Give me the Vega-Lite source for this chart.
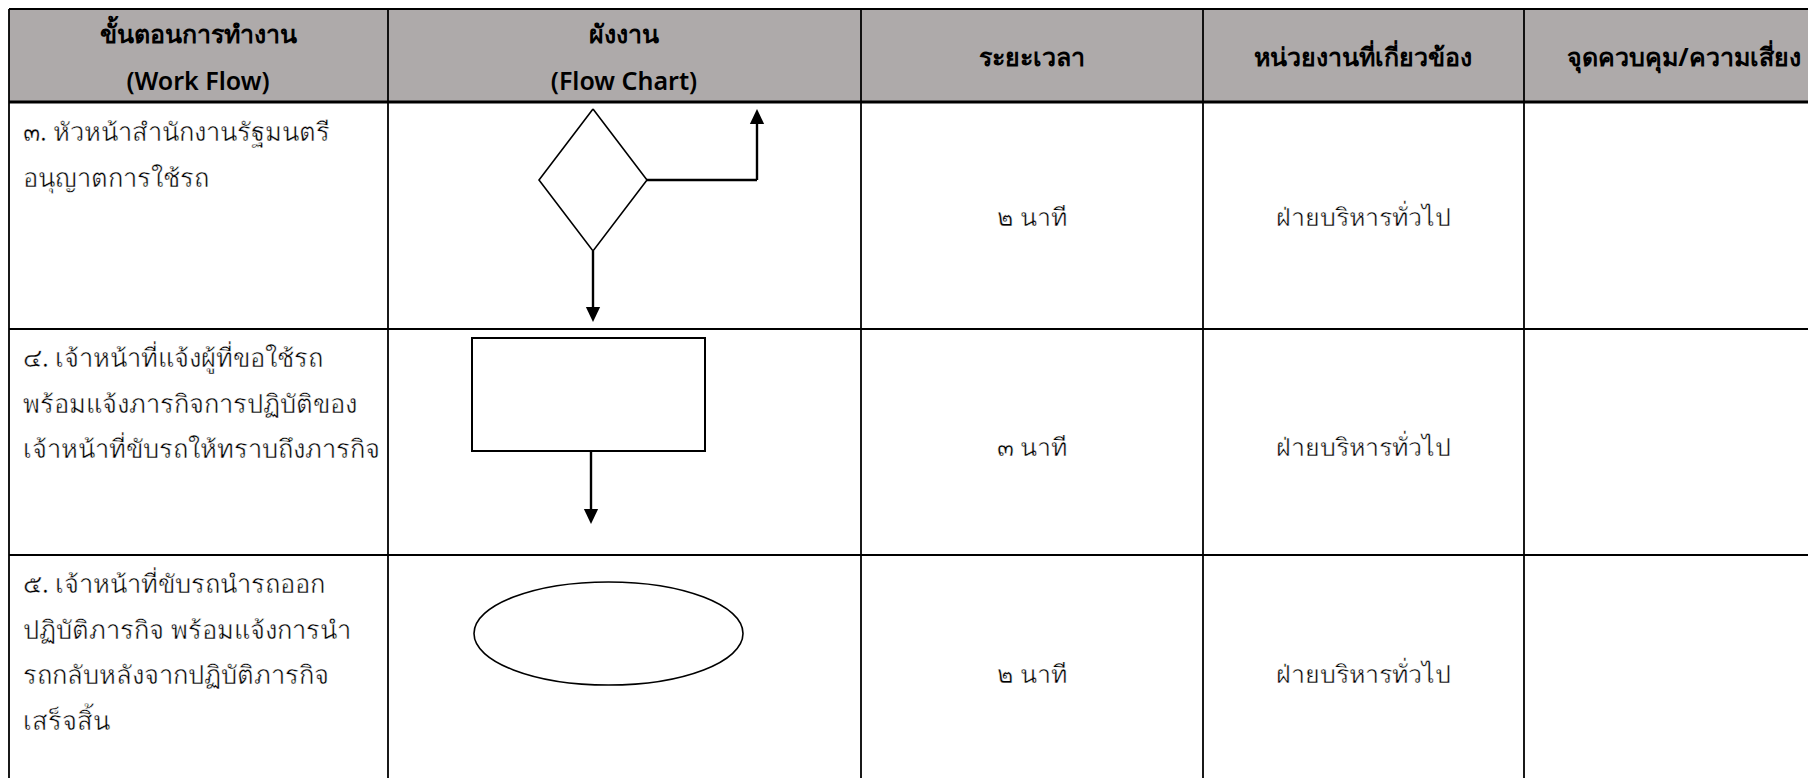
{
  "$schema": "https://vega.github.io/schema/vega-lite/v6.json",
  "width": 1808,
  "height": 778,
  "autosize": "none",
  "padding": 0,
  "background": "white",
  "config": {"view": {"stroke": null}},
  "datasets": {
    "headerBand": [{"x0": 9, "x1": 1808, "y0": 9, "y1": 102}],
    "gridLines": [
      {"x0": 9, "x1": 1808, "y0": 9, "y1": 9},
      {"x0": 9, "x1": 1808, "y0": 329, "y1": 329},
      {"x0": 9, "x1": 1808, "y0": 555, "y1": 555},
      {"x0": 9, "x1": 9, "y0": 9, "y1": 778},
      {"x0": 388, "x1": 388, "y0": 9, "y1": 778},
      {"x0": 861, "x1": 861, "y0": 9, "y1": 778},
      {"x0": 1203, "x1": 1203, "y0": 9, "y1": 778},
      {"x0": 1524, "x1": 1524, "y0": 9, "y1": 778}
    ],
    "headerRule": [{"x0": 9, "x1": 1808, "y0": 102, "y1": 102}],
    "headersThai": [
      {"label": "ขั้นตอนการทำงาน", "cx": 198, "cy": 35},
      {"label": "ผังงาน", "cx": 624, "cy": 35},
      {"label": "ระยะเวลา", "cx": 1032, "cy": 58},
      {"label": "หน่วยงานที่เกี่ยวข้อง", "cx": 1363, "cy": 58},
      {"label": "จุดควบคุม/ความเสี่ยง", "cx": 1684, "cy": 58}
    ],
    "headersLatin": [
      {"label": "(Work Flow)", "cx": 198, "cy": 82},
      {"label": "(Flow Chart)", "cx": 624, "cy": 82}
    ],
    "steps": [
      {"step": "๓. หัวหน้าสำนักงานรัฐมนตรี\nอนุญาตการใช้รถ", "x": 23, "top": 103},
      {"step": "๔. เจ้าหน้าที่แจ้งผู้ที่ขอใช้รถ\nพร้อมแจ้งภารกิจการปฏิบัติของ\nเจ้าหน้าที่ขับรถให้ทราบถึงภารกิจ", "x": 23, "top": 329},
      {"step": "๕. เจ้าหน้าที่ขับรถนำรถออก\nปฏิบัติภารกิจ พร้อมแจ้งการนำ\nรถกลับหลังจากปฏิบัติภารกิจ\nเสร็จสิ้น", "x": 23, "top": 555}
    ],
    "cells": [
      {"text": "๒ นาที", "cx": 1032, "cy": 218},
      {"text": "ฝ่ายบริหารทั่วไป", "cx": 1363, "cy": 218},
      {"text": "๓ นาที", "cx": 1032, "cy": 448},
      {"text": "ฝ่ายบริหารทั่วไป", "cx": 1363, "cy": 448},
      {"text": "๒ นาที", "cx": 1032, "cy": 675},
      {"text": "ฝ่ายบริหารทั่วไป", "cx": 1363, "cy": 675}
    ],
    "diamond": [
      {"i": 0, "x": 593, "y": 109},
      {"i": 1, "x": 647, "y": 180},
      {"i": 2, "x": 593, "y": 251},
      {"i": 3, "x": 539, "y": 180},
      {"i": 4, "x": 593, "y": 109}
    ],
    "process": [{"x0": 472, "x1": 705, "y0": 338, "y1": 451}],
    "terminal": [{"x": 608.5, "y": 633.5}],
    "connectors": [
      {"x0": 593, "x1": 593, "y0": 251, "y1": 309},
      {"x0": 647, "x1": 757, "y0": 180, "y1": 180},
      {"x0": 757, "x1": 757, "y0": 180, "y1": 122},
      {"x0": 591, "x1": 591, "y0": 451, "y1": 511}
    ],
    "heads": [
      {"x": 593, "y": 314.5, "dir": "down"},
      {"x": 757, "y": 116.5, "dir": "up"},
      {"x": 591, "y": 516.5, "dir": "down"}
    ]
  },
  "layer": [
    {
      "data": {"name": "headerBand"},
      "mark": {"type": "rect", "fill": "#AEAAAA"},
      "encoding": {
        "x": {"field": "x0", "type": "quantitative", "scale": {"domain": [0, 1808], "nice": false, "zero": false}, "axis": null},
        "x2": {"field": "x1"},
        "y": {"field": "y0", "type": "quantitative", "scale": {"domain": [0, 778], "nice": false, "zero": false, "reverse": true}, "axis": null},
        "y2": {"field": "y1"}
      }
    },
    {
      "data": {"name": "gridLines"},
      "mark": {"type": "rule", "color": "black", "strokeWidth": 1.8},
      "encoding": {
        "x": {"field": "x0", "type": "quantitative", "scale": {"domain": [0, 1808], "nice": false, "zero": false}, "axis": null},
        "x2": {"field": "x1"},
        "y": {"field": "y0", "type": "quantitative", "scale": {"domain": [0, 778], "nice": false, "zero": false, "reverse": true}, "axis": null},
        "y2": {"field": "y1"}
      }
    },
    {
      "data": {"name": "headerRule"},
      "mark": {"type": "rule", "color": "black", "strokeWidth": 3},
      "encoding": {
        "x": {"field": "x0", "type": "quantitative", "scale": {"domain": [0, 1808], "nice": false, "zero": false}, "axis": null},
        "x2": {"field": "x1"},
        "y": {"field": "y0", "type": "quantitative", "scale": {"domain": [0, 778], "nice": false, "zero": false, "reverse": true}, "axis": null},
        "y2": {"field": "y1"}
      }
    },
    {
      "data": {"name": "headersThai"},
      "mark": {"type": "text", "align": "center", "baseline": "middle", "font": "Noto Sans", "fontSize": 25, "fontWeight": "bold", "color": "black"},
      "encoding": {
        "x": {"field": "cx", "type": "quantitative", "scale": {"domain": [0, 1808], "nice": false, "zero": false}, "axis": null},
        "y": {"field": "cy", "type": "quantitative", "scale": {"domain": [0, 778], "nice": false, "zero": false, "reverse": true}, "axis": null},
        "text": {"field": "label"}
      }
    },
    {
      "data": {"name": "headersLatin"},
      "mark": {"type": "text", "align": "center", "baseline": "middle", "font": "Noto Sans", "fontSize": 25, "fontWeight": 600, "color": "black"},
      "encoding": {
        "x": {"field": "cx", "type": "quantitative", "scale": {"domain": [0, 1808], "nice": false, "zero": false}, "axis": null},
        "y": {"field": "cy", "type": "quantitative", "scale": {"domain": [0, 778], "nice": false, "zero": false, "reverse": true}, "axis": null},
        "text": {"field": "label"}
      }
    },
    {
      "data": {"name": "steps"},
      "mark": {"type": "text", "align": "left", "baseline": "top", "dy": 18, "lineBreak": "\n", "lineHeight": 45.5, "font": "Noto Sans", "fontSize": 25.5, "fontWeight": "normal", "color": "black", "stroke": "white", "strokeWidth": 0.45},
      "encoding": {
        "x": {"field": "x", "type": "quantitative", "scale": {"domain": [0, 1808], "nice": false, "zero": false}, "axis": null},
        "y": {"field": "top", "type": "quantitative", "scale": {"domain": [0, 778], "nice": false, "zero": false, "reverse": true}, "axis": null},
        "text": {"field": "step"}
      }
    },
    {
      "data": {"name": "cells"},
      "mark": {"type": "text", "align": "center", "baseline": "middle", "font": "Noto Sans", "fontSize": 25, "fontWeight": "normal", "color": "black", "stroke": "white", "strokeWidth": 0.45},
      "encoding": {
        "x": {"field": "cx", "type": "quantitative", "scale": {"domain": [0, 1808], "nice": false, "zero": false}, "axis": null},
        "y": {"field": "cy", "type": "quantitative", "scale": {"domain": [0, 778], "nice": false, "zero": false, "reverse": true}, "axis": null},
        "text": {"field": "text"}
      }
    },
    {
      "data": {"name": "diamond"},
      "mark": {"type": "line", "color": "black", "strokeWidth": 1.6, "strokeJoin": "miter"},
      "encoding": {
        "x": {"field": "x", "type": "quantitative", "scale": {"domain": [0, 1808], "nice": false, "zero": false}, "axis": null},
        "y": {"field": "y", "type": "quantitative", "scale": {"domain": [0, 778], "nice": false, "zero": false, "reverse": true}, "axis": null},
        "order": {"field": "i", "type": "quantitative"}
      }
    },
    {
      "data": {"name": "process"},
      "mark": {"type": "rect", "fill": "white", "stroke": "black", "strokeWidth": 2},
      "encoding": {
        "x": {"field": "x0", "type": "quantitative", "scale": {"domain": [0, 1808], "nice": false, "zero": false}, "axis": null},
        "x2": {"field": "x1"},
        "y": {"field": "y0", "type": "quantitative", "scale": {"domain": [0, 778], "nice": false, "zero": false, "reverse": true}, "axis": null},
        "y2": {"field": "y1"}
      }
    },
    {
      "data": {"name": "terminal"},
      "mark": {"type": "point", "shape": "M-1,0A1,0.383,0,1,1,1,0A1,0.383,0,1,1,-1,0Z", "size": 72361, "filled": false, "stroke": "black", "strokeWidth": 1.6, "opacity": 1},
      "encoding": {
        "x": {"field": "x", "type": "quantitative", "scale": {"domain": [0, 1808], "nice": false, "zero": false}, "axis": null},
        "y": {"field": "y", "type": "quantitative", "scale": {"domain": [0, 778], "nice": false, "zero": false, "reverse": true}, "axis": null}
      }
    },
    {
      "data": {"name": "connectors"},
      "mark": {"type": "rule", "color": "black", "strokeWidth": 2.4},
      "encoding": {
        "x": {"field": "x0", "type": "quantitative", "scale": {"domain": [0, 1808], "nice": false, "zero": false}, "axis": null},
        "x2": {"field": "x1"},
        "y": {"field": "y0", "type": "quantitative", "scale": {"domain": [0, 778], "nice": false, "zero": false, "reverse": true}, "axis": null},
        "y2": {"field": "y1"}
      }
    },
    {
      "data": {"name": "heads"},
      "mark": {"type": "point", "filled": true, "color": "black", "size": 225, "opacity": 1, "strokeWidth": 0},
      "encoding": {
        "x": {"field": "x", "type": "quantitative", "scale": {"domain": [0, 1808], "nice": false, "zero": false}, "axis": null},
        "y": {"field": "y", "type": "quantitative", "scale": {"domain": [0, 778], "nice": false, "zero": false, "reverse": true}, "axis": null},
        "shape": {"field": "dir", "type": "nominal", "scale": {"domain": ["down", "up"], "range": ["M-0.95,-1L0.95,-1L0,1Z", "M-0.95,1L0.95,1L0,-1Z"]}, "legend": null}
      }
    }
  ]
}
